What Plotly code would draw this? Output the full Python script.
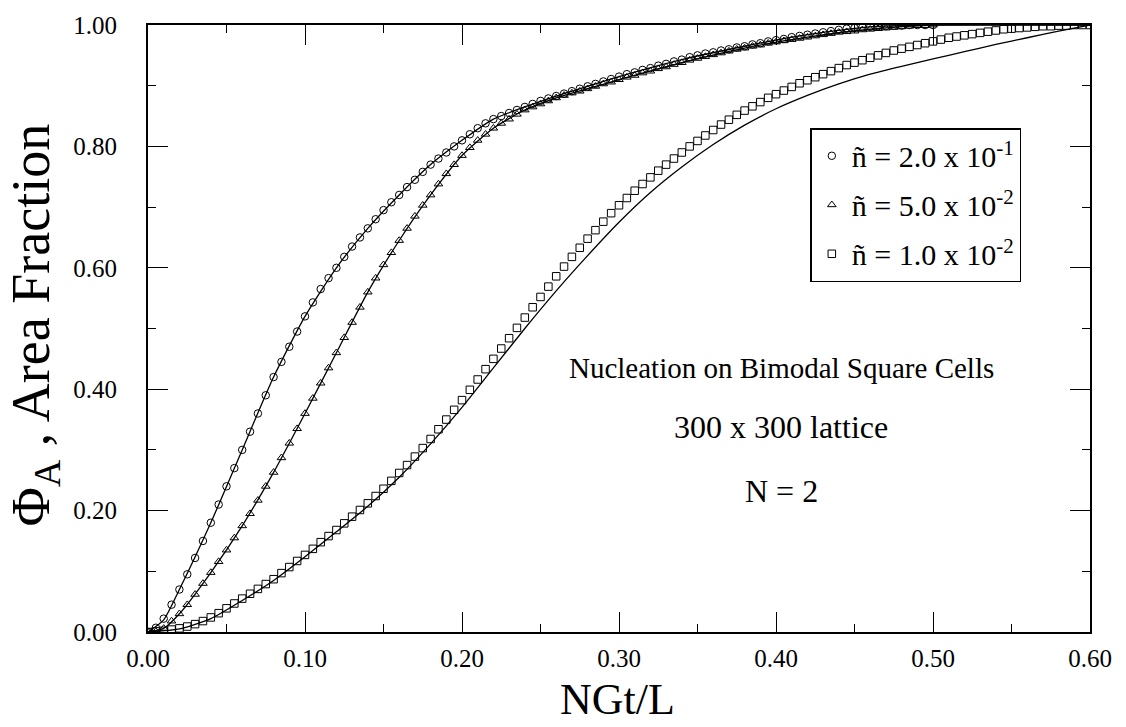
import numpy as np
import plotly.graph_objects as go

# ---------------- data ----------------
# sample grid step for the simulated points (NGt/L)
STEP = 0.005

# n~ = 2.0e-1 (circles), x = 0 ... 0.500
circ_y = [
    0.000, 0.007, 0.022, 0.045, 0.070, 0.095, 0.122, 0.150, 0.180, 0.210,
    0.240, 0.270, 0.300, 0.330, 0.360, 0.390, 0.420, 0.445, 0.470, 0.495,
    0.520, 0.543, 0.565, 0.583, 0.600, 0.618, 0.635, 0.650, 0.665, 0.680,
    0.695, 0.708, 0.720, 0.733, 0.745, 0.758, 0.770, 0.780, 0.790, 0.800,
    0.810, 0.820, 0.830, 0.838, 0.845, 0.850, 0.855, 0.860, 0.865, 0.870,
    0.875, 0.879, 0.883, 0.887, 0.891, 0.895, 0.899, 0.903, 0.907, 0.911,
    0.915, 0.919, 0.922, 0.926, 0.929, 0.933, 0.936, 0.940, 0.943, 0.947,
    0.950, 0.953, 0.955, 0.958, 0.960, 0.963, 0.965, 0.968, 0.970, 0.973,
    0.975, 0.977, 0.980, 0.982, 0.984, 0.986, 0.988, 0.990, 0.992, 0.994,
    0.995, 0.996, 0.997, 0.998, 0.998, 0.999, 0.999, 1.000, 1.000, 1.000,
    1.000,
]

# n~ = 5.0e-2 (triangles), x = 0 ... 0.500
tri_y = [
    0.000, 0.001, 0.006, 0.018, 0.030, 0.045, 0.062, 0.080, 0.098, 0.116,
    0.135, 0.155, 0.175, 0.195, 0.217, 0.240, 0.263, 0.287, 0.311, 0.335,
    0.360, 0.385, 0.410, 0.435, 0.460, 0.485, 0.510, 0.535, 0.560, 0.583,
    0.605, 0.625, 0.645, 0.665, 0.685, 0.703, 0.720, 0.738, 0.755, 0.770,
    0.785, 0.798, 0.810, 0.820, 0.830, 0.838, 0.845, 0.853, 0.860, 0.865,
    0.870, 0.875, 0.880, 0.884, 0.888, 0.891, 0.895, 0.899, 0.903, 0.906,
    0.910, 0.914, 0.917, 0.921, 0.924, 0.928, 0.931, 0.935, 0.938, 0.942,
    0.945, 0.948, 0.951, 0.954, 0.957, 0.960, 0.962, 0.965, 0.967, 0.970,
    0.972, 0.974, 0.976, 0.978, 0.980, 0.982, 0.984, 0.986, 0.988, 0.989,
    0.990, 0.992, 0.993, 0.994, 0.995, 0.996, 0.997, 0.998, 0.999, 0.999,
    1.000,
]

# n~ = 1.0e-2 (squares), x = 0 ... 0.600
sq_y = [
    0.000, 0.001, 0.002, 0.004, 0.006, 0.009, 0.013, 0.018, 0.024, 0.031,
    0.039, 0.047, 0.055, 0.063, 0.071, 0.079, 0.087, 0.097, 0.107, 0.117,
    0.127, 0.137, 0.148, 0.158, 0.168, 0.179, 0.190, 0.201, 0.212, 0.224,
    0.236, 0.249, 0.262, 0.275, 0.289, 0.303, 0.318, 0.334, 0.350, 0.366,
    0.382, 0.399, 0.416, 0.433, 0.450, 0.467, 0.484, 0.501, 0.518, 0.535,
    0.552, 0.569, 0.586, 0.602, 0.618, 0.633, 0.648, 0.662, 0.676, 0.690,
    0.703, 0.715, 0.727, 0.738, 0.749, 0.760, 0.770, 0.780, 0.790, 0.800,
    0.809, 0.818, 0.827, 0.836, 0.844, 0.852, 0.859, 0.866, 0.873, 0.880,
    0.886, 0.892, 0.898, 0.904, 0.909, 0.914, 0.919, 0.924, 0.929, 0.934,
    0.938, 0.942, 0.946, 0.950, 0.954, 0.958, 0.961, 0.964, 0.967, 0.970,
    0.973, 0.976, 0.979, 0.981, 0.983, 0.985, 0.987, 0.989, 0.991, 0.993,
    0.994, 0.995, 0.996, 0.997, 0.998, 0.998, 0.999, 0.999, 1.000, 1.000,
    1.000,
]

# theory curves (solid lines)
fit_x = [0.00, 0.01, 0.02, 0.04, 0.06, 0.08, 0.10, 0.12, 0.14, 0.16, 0.18,
         0.20, 0.22, 0.24, 0.26, 0.28, 0.30, 0.34, 0.38, 0.42, 0.46, 0.50, 0.60]
circ_fit = [0.000, 0.020, 0.070, 0.180, 0.300, 0.420, 0.520, 0.600, 0.665, 0.720,
            0.770, 0.810, 0.845, 0.865, 0.883, 0.899, 0.915, 0.943, 0.965, 0.984,
            0.997, 1.000, 1.000]
tri_fit = [0.000, 0.006, 0.030, 0.098, 0.175, 0.263, 0.360, 0.460, 0.560, 0.645,
           0.720, 0.785, 0.830, 0.860, 0.880, 0.895, 0.910, 0.938, 0.962, 0.980,
           0.993, 1.000, 1.000]
sq_fit_x = [0.00, 0.02, 0.04, 0.06, 0.08, 0.10, 0.12, 0.14, 0.16, 0.18, 0.20,
            0.22, 0.24, 0.26, 0.28, 0.30, 0.32, 0.34, 0.36, 0.38, 0.40, 0.42,
            0.44, 0.46, 0.48, 0.50, 0.52, 0.54, 0.56, 0.58, 0.60]
sq_fit = [0.000, 0.005, 0.022, 0.052, 0.085, 0.124, 0.165, 0.207, 0.255, 0.310,
          0.370, 0.435, 0.500, 0.562, 0.620, 0.675, 0.724, 0.766, 0.803, 0.835,
          0.862, 0.884, 0.903, 0.919, 0.932, 0.944, 0.956, 0.968, 0.979, 0.990,
          1.000]

legend_labels = ["ñ = 2.0 x 10<sup>-1</sup>",
                 "ñ = 5.0 x 10<sup>-2</sup>",
                 "ñ = 1.0 x 10<sup>-2</sup>"]
x_ticks = [0.0, 0.1, 0.2, 0.3, 0.4, 0.5, 0.6]
y_ticks = [0.0, 0.2, 0.4, 0.6, 0.8, 1.0]
notes = ["Nucleation on Bimodal Square Cells", "300 x 300 lattice", "N = 2"]

# ---------------- figure ----------------
FONT = "Liberation Serif, Times New Roman, serif"
circ_x = np.round(np.arange(len(circ_y)) * STEP, 4)
tri_x = np.round(np.arange(len(tri_y)) * STEP, 4)
sq_x = np.round(np.arange(len(sq_y)) * STEP, 4)

fig = go.Figure()
line_style = dict(color="black", width=1.3, shape="spline", smoothing=0.6)
fig.add_trace(go.Scatter(x=fit_x, y=circ_fit, mode="lines", line=line_style,
                         showlegend=False, hoverinfo="skip"))
fig.add_trace(go.Scatter(x=fit_x, y=tri_fit, mode="lines", line=line_style,
                         showlegend=False, hoverinfo="skip"))
fig.add_trace(go.Scatter(x=sq_fit_x, y=sq_fit, mode="lines", line=line_style,
                         showlegend=False, hoverinfo="skip"))

symbols = ["circle-open", "triangle-up-open", "square-open"]
for xs, ys, sym, name, grp in zip([circ_x, tri_x, sq_x], [circ_y, tri_y, sq_y],
                                  symbols, legend_labels, ["a", "b", "c"]):
    fig.add_trace(go.Scatter(
        x=xs, y=ys, mode="markers", name=name, legendgroup=grp,
        marker=dict(symbol=sym, size=7.5, color="black", line=dict(width=1, color="black")),
    ))

axis_common = dict(
    showline=True, linecolor="black", linewidth=1.8, mirror="allticks",
    ticks="inside", ticklen=20, tickwidth=1.4, tickcolor="black",
    showgrid=False, zeroline=False,
    tickfont=dict(family=FONT, size=25, color="black"),
)
fig.update_xaxes(range=[0, 0.6], tickvals=x_ticks, tickformat=".2f",
                 ticklabelstandoff=3,
                 minor=dict(ticks="inside", ticklen=8, tickwidth=1.2, tickcolor="black",
                            dtick=0.05, showgrid=False),
                 **axis_common)
fig.update_yaxes(range=[0, 1.0], tickvals=y_ticks, tickformat=".2f",
                 ticklabelstandoff=24,
                 minor=dict(ticks="inside", ticklen=8, tickwidth=1.2, tickcolor="black",
                            dtick=0.1, showgrid=False),
                 **axis_common)

annotations = [
    dict(text="NGt/L", xref="paper", yref="paper", x=0.498, y=-0.154,
         showarrow=False, font=dict(family=FONT, size=44, color="black"),
         xanchor="center", yanchor="bottom", borderpad=0),
    dict(text="Φ<sub>A</sub> , Area Fraction", xref="paper", yref="paper",
         x=-0.121, y=0.505, textangle=-90, showarrow=False,
         font=dict(family=FONT, size=54, color="black"),
         xanchor="center", yanchor="middle"),
]
note_y = [0.435, 0.337, 0.232]
note_size = [29, 32, 32]
for t, yy, fs in zip(notes, note_y, note_size):
    annotations.append(dict(text=t, xref="paper", yref="paper", x=0.672, y=yy,
                            showarrow=False, xanchor="center", yanchor="middle",
                            font=dict(family=FONT, size=fs, color="black")))

fig.update_layout(
    width=1126, height=727,
    margin=dict(l=148, r=36, t=18, b=95),
    paper_bgcolor="white", plot_bgcolor="white",
    font=dict(family=FONT, color="black"),
    showlegend=True,
    legend=dict(x=0.703, y=0.830, xanchor="left", yanchor="top",
                bgcolor="white", bordercolor="black", borderwidth=1.6,
                font=dict(family=FONT, size=30, color="black"),
                tracegroupgap=7, itemwidth=30),
    annotations=annotations,
)

fig.write_html("out.html")
